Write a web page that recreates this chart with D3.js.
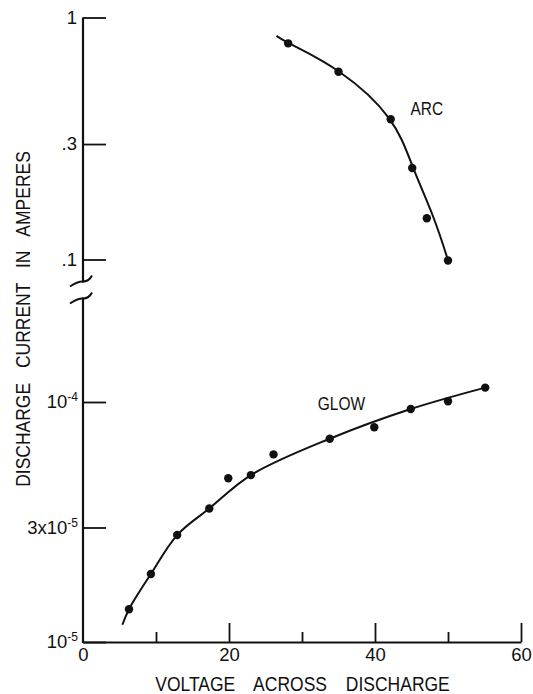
<!DOCTYPE html>
<html><head><meta charset="utf-8">
<script src="https://cdn.jsdelivr.net/npm/d3@7"></script>
<style>
body{margin:0;background:#fff}
svg text{font-family:"Liberation Sans",Arial,sans-serif;fill:#111}
</style>
</head><body><svg id="c" width="533" height="694"></svg>
<script>
// ---- data ----
const xTickMajor = [0, 20, 40, 60];
const xTickMinor = [10, 30, 50];
const upperTicks = [1, 0.3, 0.1];
const upperTickLabels = ["1", ".3", ".1"];
const lowerTicks = [1e-4, 3e-5, 1e-5];
const lowerTickBase = ["10", "3x10", "10"];
const lowerTickExp = ["-4", "-5", "-5"];

const arcV = [28.1, 35.0, 42.15, 45.1, 47.1, 50.0];
const arcI = [0.782, 0.597, 0.38, 0.239, 0.148, 0.099];
const arcCurveV = [26.5, 28.1, 35.0, 42.8, 45.1, 48.2, 50.15];
const arcCurveI = [0.839, 0.782, 0.62, 0.385, 0.239, 0.148, 0.096];

const glowV = [6.3, 9.3, 12.9, 17.3, 19.9, 23.0, 26.1, 33.8, 39.9, 44.9, 50.0, 55.1];
const glowI = [1.37e-5, 1.92e-5, 2.79e-5, 3.6e-5, 4.81e-5, 4.96e-5, 6.05e-5, 7.03e-5, 7.85e-5, 9.35e-5, 1.007e-4, 1.148e-4];
const glowCurveV = [5.4, 6.3, 9.3, 12.9, 17.3, 23.0, 33.8, 44.9, 55.1];
const glowCurveI = [1.18e-5, 1.37e-5, 1.92e-5, 2.79e-5, 3.6e-5, 4.96e-5, 7.03e-5, 9.35e-5, 1.148e-4];

const seriesLabels = [{name: "ARC", v: 47.1, i: 0.395, panel: "top"}, {name: "GLOW", v: 35.4, i: 9.26e-5, panel: "bot"}];
const xTitle = "VOLTAGE ACROSS DISCHARGE";
const yTitle = "DISCHARGE CURRENT IN AMPERES";

// ---- layout ----
const left = 83, right = 521;
const topTop = 17.5, topBottom = 259.5;
const botTop = 402, botBottom = 642;
const ink = "#111";
const tickFont = 18.5;

const svg = d3.select("#c");
const x = d3.scaleLinear().domain([0, 60]).range([left, right]);
const yTop = d3.scaleLog().domain([0.1, 1]).range([topBottom, topTop]);
const yBot = d3.scaleLog().domain([1e-5, 1e-4]).range([botBottom, botTop]);

// x axis: major ticks with labels
const gx = svg.append("g").attr("transform", `translate(0,${botBottom})`)
  .call(d3.axisBottom(x).tickValues(xTickMajor).tickSizeInner(-19).tickSizeOuter(0).tickPadding(6).tickFormat(d3.format("d")));
gx.select(".domain").attr("stroke", ink).attr("stroke-width", 2.2);
gx.selectAll(".tick line").attr("stroke", ink).attr("stroke-width", 1.8);
gx.selectAll(".tick text").attr("font-size", tickFont).attr("fill", ink).attr("font-family", "Liberation Sans, Arial, sans-serif");
gx.selectAll(".tick").filter(d => d === 0).select("line").remove();
// minor ticks
const gxm = svg.append("g").attr("transform", `translate(0,${botBottom})`)
  .call(d3.axisBottom(x).tickValues(xTickMinor).tickSizeInner(-10).tickSizeOuter(0).tickFormat(""));
gxm.select(".domain").remove();
gxm.selectAll(".tick line").attr("stroke", ink).attr("stroke-width", 1.8);

// upper y axis
const gyt = svg.append("g").attr("transform", `translate(${left},0)`)
  .call(d3.axisLeft(yTop).tickValues(upperTicks).tickSizeInner(-23).tickSizeOuter(0).tickPadding(6)
    .tickFormat((d, i) => upperTickLabels[i]));
gyt.select(".domain").remove();
gyt.selectAll(".tick line").attr("stroke", ink).attr("stroke-width", 1.8);
gyt.selectAll(".tick text").attr("font-size", tickFont).attr("fill", ink).attr("font-family", "Liberation Sans, Arial, sans-serif");

// lower y axis
const gyb = svg.append("g").attr("transform", `translate(${left},0)`)
  .call(d3.axisLeft(yBot).tickValues(lowerTicks).tickSizeInner(-23).tickSizeOuter(0).tickPadding(5).tickFormat(""));
gyb.select(".domain").remove();
gyb.selectAll(".tick line").attr("stroke", ink).attr("stroke-width", 1.8);
gyb.selectAll(".tick text").each(function(d, i) {
  const t = d3.select(this).attr("font-size", tickFont).attr("fill", ink).attr("font-family", "Liberation Sans, Arial, sans-serif");
  t.text(null);
  t.append("tspan").text(lowerTickBase[i]);
  t.append("tspan").attr("font-size", 12).attr("dy", "-0.6em").text(lowerTickExp[i]);
});

// axis lines with break
const breakTop = yTop(0.1) + 22, breakBot = breakTop + 17;
svg.append("line").attr("x1", left).attr("x2", left).attr("y1", yTop(1)).attr("y2", breakTop + 1)
  .attr("stroke", ink).attr("stroke-width", 2.2);
svg.append("line").attr("x1", left).attr("x2", left).attr("y1", breakBot - 1).attr("y2", botBottom + 1)
  .attr("stroke", ink).attr("stroke-width", 2.2);
[breakTop, breakBot].forEach(yb => {
  svg.append("path")
    .attr("d", `M${left - 13},${yb + 5} Q${left - 6},${yb} ${left},${yb} T${left + 9},${yb - 6}`)
    .attr("fill", "none").attr("stroke", ink).attr("stroke-width", 2);
});

// curves
const arcLine = d3.line().curve(d3.curveBasis).x(d => x(d[0])).y(d => yTop(d[1]));
const glowLine = d3.line().curve(d3.curveCatmullRom.alpha(0.5)).x(d => x(d[0])).y(d => yBot(d[1]));
svg.append("path").attr("d", arcLine(d3.zip(arcCurveV, arcCurveI)))
  .attr("fill", "none").attr("stroke", ink).attr("stroke-width", 2);
svg.append("path").attr("d", glowLine(d3.zip(glowCurveV, glowCurveI)))
  .attr("fill", "none").attr("stroke", ink).attr("stroke-width", 2);

// points
svg.append("g").selectAll("circle").data(d3.zip(arcV, arcI)).join("circle")
  .attr("cx", d => x(d[0])).attr("cy", d => yTop(d[1])).attr("r", 4.2).attr("fill", ink);
svg.append("g").selectAll("circle").data(d3.zip(glowV, glowI)).join("circle")
  .attr("cx", d => x(d[0])).attr("cy", d => yBot(d[1])).attr("r", 4.2).attr("fill", ink);

// series labels
seriesLabels.forEach(s => {
  const py = s.panel === "top" ? yTop(s.i) : yBot(s.i);
  svg.append("text").attr("transform", `translate(${x(s.v)},${py}) scale(1,1.15)`)
    .attr("text-anchor", "middle").attr("font-size", 15.5).text(s.name);
});

// titles
svg.append("text").attr("transform", "translate(302.5,691) scale(1,1.12)").attr("text-anchor", "middle")
  .attr("font-size", 17.5).attr("word-spacing", 14).text(xTitle);
svg.append("text").attr("transform", "translate(30,319) rotate(-90) scale(1,1.12)").attr("text-anchor", "middle")
  .attr("font-size", 17.5).attr("word-spacing", 10).text(yTitle);
</script>
</body></html>
